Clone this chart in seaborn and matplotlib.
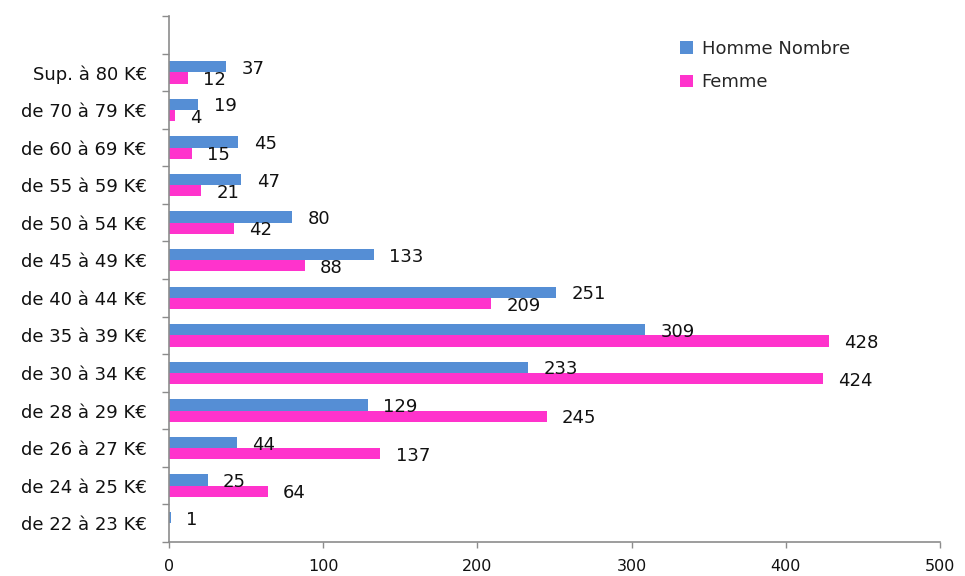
import matplotlib
matplotlib.use("Agg")
import matplotlib.pyplot as plt
from matplotlib.patches import Patch
from matplotlib.ticker import FixedLocator
import seaborn as sns
import pandas as pd

# Salary bands, top to bottom (the leading blank keeps an empty slot above the bars)
categories = ["", "Sup. à 80 K€", "de 70 à 79 K€", "de 60 à 69 K€", "de 55 à 59 K€",
              "de 50 à 54 K€", "de 45 à 49 K€", "de 40 à 44 K€", "de 35 à 39 K€",
              "de 30 à 34 K€", "de 28 à 29 K€", "de 26 à 27 K€", "de 24 à 25 K€",
              "de 22 à 23 K€"]
bands = categories[1:]
homme = [37, 19, 45, 47, 80, 133, 251, 309, 233, 129, 44, 25, 1]
femme = [12, 4, 15, 21, 42, 88, 209, 428, 424, 245, 137, 64, None]
series = ["Homme Nombre", "Femme"]
colors = ["#558ED5", "#FF33CC"]
x_ticks = [0, 100, 200, 300, 400, 500]

rows = []
for band, h, f in zip(bands, homme, femme):
    rows.append({"band": band, "sexe": series[0], "n": h})
    if f is not None:
        rows.append({"band": band, "sexe": series[1], "n": f})
df = pd.DataFrame(rows)

sns.set_theme(style="white")
plt.rcParams["font.family"] = ["DejaVu Sans"]

fig = plt.figure(figsize=(9.65, 5.76), dpi=100)
ax = fig.add_axes([169 / 965, 1 - 542 / 576, (940 - 169) / 965, (542 - 16) / 576])

sns.barplot(data=df, y="band", x="n", hue="sexe", order=categories,
            hue_order=series, palette=colors, orient="h", width=0.6,
            saturation=1, legend=False, ax=ax, linewidth=0)

# value labels, nudged slightly below the bar centre
for cont in ax.containers:
    for ann in ax.bar_label(cont, padding=11, fontsize=13, color="#111111"):
        ann.xyann = (11, -1.5)

ax.set_xlim(0, 500)
ax.set_ylim(len(categories) - 0.5, -0.5)
ax.set_xticks(x_ticks)
ax.set_xticklabels([str(v) for v in x_ticks])
ax.tick_params(axis="x", which="major", length=4, width=1, color="#8c8c8c",
               direction="out", pad=8, bottom=True, labelsize=11.5,
               labelcolor="#111111")

ax.set_yticks(range(len(categories)))
ax.set_yticklabels(categories)
ax.yaxis.set_minor_locator(FixedLocator([i - 0.5 for i in range(len(categories) + 1)]))
ax.tick_params(axis="y", which="major", length=0, pad=16, left=False,
               labelsize=13, labelcolor="#111111")
ax.tick_params(axis="y", which="minor", length=5, width=1, color="#8c8c8c",
               direction="out", left=True)

ax.set_xlabel("")
ax.set_ylabel("")
for side in ["top", "right"]:
    ax.spines[side].set_visible(False)
for side in ["left", "bottom"]:
    ax.spines[side].set_color("#8c8c8c")
    ax.spines[side].set_linewidth(1.2)
ax.grid(False)

handles = [Patch(facecolor=c, edgecolor="none", label=s) for c, s in zip(colors, series)]
ax.legend(handles=handles, loc="upper left", bbox_to_anchor=(680 / 965, 1 - 40 / 576),
          bbox_transform=fig.transFigure, frameon=False, fontsize=13,
          handlelength=0.7, handleheight=0.7, handletextpad=0.5,
          labelspacing=0.85, borderpad=0, borderaxespad=0)

fig.savefig("out.png", dpi=100)
